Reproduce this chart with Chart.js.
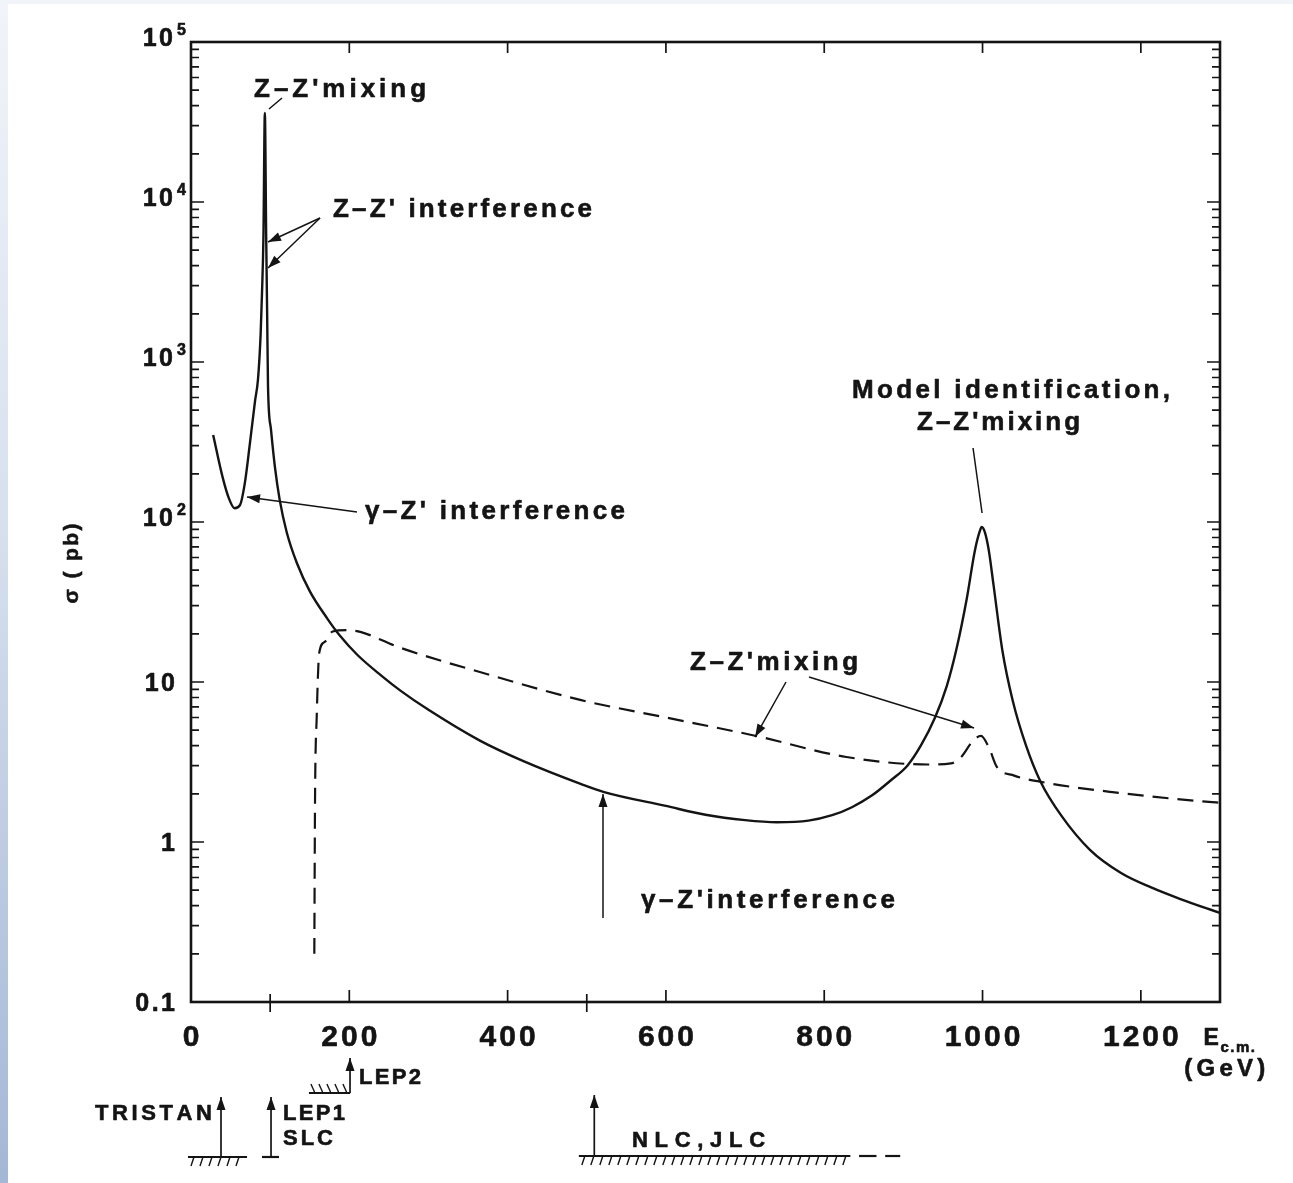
<!DOCTYPE html>
<html>
<head>
<meta charset="utf-8">
<title>Z' cross section vs E_cm</title>
<script src="https://cdn.jsdelivr.net/npm/chart.js@4.4.1/dist/chart.umd.min.js"></script>
<style>
  html, body { margin: 0; padding: 0; }
  body {
    width: 1293px; height: 1183px; overflow: hidden;
    background: linear-gradient(180deg, #f1f4f9 0%, #d6e0ee 45%, #a3b7d6 100%);
  }
  #wrap { position: absolute; left: 8px; top: 4px; width: 1285px; height: 1179px; background: #fff; }
</style>
</head>
<body>
<div id="wrap"><canvas id="chart"></canvas></div>
<script>
// ---- data (E in GeV, sigma in pb) ----
const solidE = [28, 40, 48, 55, 62, 68, 74.5, 81, 84.6, 88, 89.7, 91.5, 93.3, 95, 96.2, 97.3, 101, 106, 112, 121,
    134, 150, 172, 188, 210, 240, 265, 300, 365, 420, 493, 522, 600, 650, 700, 740, 780, 810, 835, 860,
    885, 905, 922, 940, 955, 967, 980, 990, 996, 999, 1003, 1008, 1014, 1025, 1038, 1055, 1073, 1100, 1136, 1175,
    1213, 1250, 1300];
const solidSigma = [350, 190, 140, 122, 128, 175, 312, 575, 775, 1500, 2700, 6000, 36000, 6000, 2000, 700, 380, 221, 138, 86,
    55, 37, 25, 19.5, 14.8, 11, 8.8, 6.7, 4.3, 3.2, 2.3, 2.05, 1.68, 1.48, 1.37, 1.33, 1.36, 1.47, 1.65, 1.95,
    2.45, 3.0, 4.0, 6.0, 9.5, 16, 33, 65, 86, 93, 86, 66, 40, 15.8, 7.7, 4.0, 2.4, 1.45, 0.89, 0.64,
    0.52, 0.44, 0.36];

const dashedE = [155.8, 156.7, 158.8, 162, 169, 179, 198, 215, 261, 366, 493, 600, 714, 828, 931, 960, 973,
    988, 998, 1008, 1018, 1040, 1075, 1164, 1286, 1300];
const dashedSigma = [0.2, 1.83, 6.0, 15.2, 17.8, 20.7, 21.1, 20.5, 16.6, 11.5, 7.7, 6.0, 4.6, 3.4, 3.05, 3.1, 3.4,
    4.3, 4.6, 3.9, 2.95, 2.6, 2.37, 2.05, 1.78, 1.76];

const xTicks = [0, 200, 400, 600, 800, 1000, 1200];
const xTickLabels = ['0', '200', '400', '600', '800', '1000', '1200'];
const yDecades = [0.1, 1, 10, 100, 1000, 10000, 100000];
const yTickLabels = ['0.1', '1', '10', '10', '10', '10', '10'];
const yTickExponents = ['', '', '', '2', '3', '4', '5'];

// callout texts, anchored in data units: e (GeV), s (pb) = baseline, w = width in px
const notes = [
    { text: 'Z\u2013Z\'mixing', e: 188.3, s: 45290, w: 172 },
    { text: 'Z\u2013Z\' interference', e: 343.0, s: 8054, w: 259 },
    { text: '\u03b3\u2013Z\' interference', e: 384.1, s: 104.3, w: 260 },
    { text: 'Model identification,', e: 1036.0, s: 595.7, w: 318 },
    { text: 'Z\u2013Z\'mixing', e: 1020.2, s: 375.8, w: 163 },
    { text: 'Z\u2013Z\'mixing', e: 736.6, s: 11.89, w: 168 },
    { text: '\u03b3\u2013Z\'interference', e: 729.0, s: 0.387, w: 254 },
];
// pointer lines: from -> to, head = arrowhead at "to"
const pointers = [
    { from: [98.5, 38150], to: [115.0, 44670], head: false },
    { from: [163.0, 7943], to: [97.3, 5623], head: true },
    { from: [163.0, 7943], to: [97.3, 3869], head: true },
    { from: [209.7, 115.5], to: [70.75, 143.3], head: true },
    { from: [988.0, 290.1], to: [999.4, 113.8], head: false },
    { from: [751.7, 10.0], to: [712.6, 4.53], head: true },
    { from: [780.8, 10.75], to: [989.3, 5.16], head: true },
    { from: [520.5, 0.335], to: [520.5, 1.995], head: true },
];

// collider reach markers below the axis: e in GeV, dy = px below plot bottom
const colliders = [
    { name: 'TRISTAN', arrowE: 37.9, dyFrom: 155, dyTo: 95, floor: [-3.8, 70.8], hatch: 'below' },
    { name: 'LEP1', arrowE: 101.1, dyFrom: 155, dyTo: 95, floor: [89.7, 111.2], hatch: 'none' },
    { name: 'LEP2', arrowE: 200.9, dyFrom: 91, dyTo: 56, floor: [149, 201], hatch: 'above', floorDy: 91 },
    { name: 'NLC', arrowE: 509.5, dyFrom: 154, dyTo: 93, floor: [490, 833], hatch: 'below', dashes: [[844, 866], [877, 896]] },
];
const colliderTexts = [
    { text: 'TRISTAN', e: -47.4, dy: 118, w: 117 },
    { text: 'LEP1', e: 155.4, dy: 118, w: 62 },
    { text: 'SLC', e: 147.8, dy: 143, w: 50 },
    { text: 'LEP2', e: 251.4, dy: 82, w: 62 },
    { text: 'NLC,JLC', e: 641.2, dy: 145, w: 133 },
];

const ink = '#141414';
const fam = '"Liberation Sans", Arial, sans-serif';

// bold text with even tracking; a thin outline thickens it like the old print
function spaced(ctx, str, x, y, size, opt) {
    ctx.font = `bold ${size}px ${fam}`;
    const chars = [...str];
    const ws = chars.map(c => ctx.measureText(c).width);
    const raw = ws.reduce((a, b) => a + b, 0);
    let gap = opt.gap || 0;
    if (opt.width) gap = (opt.width - raw) / Math.max(chars.length - 1, 1);
    const total = raw + gap * (chars.length - 1);
    let cx = opt.align === 'right' ? x - total : opt.align === 'left' ? x : x - total / 2;
    ctx.textAlign = 'left';
    ctx.textBaseline = 'alphabetic';
    ctx.save();
    ctx.lineWidth = 0.6;
    ctx.lineJoin = 'round';
    chars.forEach((c, i) => { ctx.fillText(c, cx, y); ctx.strokeText(c, cx, y); cx += ws[i] + gap; });
    ctx.restore();
    return total;
}

function arrow(ctx, x1, y1, x2, y2, head) {
    ctx.beginPath();
    ctx.moveTo(x1, y1);
    ctx.lineTo(x2, y2);
    ctx.stroke();
    if (!head) return;
    const a = Math.atan2(y2 - y1, x2 - x1), L = 13, W = 4.5;
    ctx.beginPath();
    ctx.moveTo(x2, y2);
    ctx.lineTo(x2 - L * Math.cos(a) + W * Math.sin(a), y2 - L * Math.sin(a) - W * Math.cos(a));
    ctx.lineTo(x2 - L * Math.cos(a) - W * Math.sin(a), y2 - L * Math.sin(a) + W * Math.cos(a));
    ctx.closePath();
    ctx.fill();
}

const decor = {
    id: 'decor',
    afterDraw(chart) {
        const { ctx, chartArea: a, scales: { x, y } } = chart;
        ctx.save();
        ctx.strokeStyle = ink;
        ctx.fillStyle = ink;
        ctx.lineCap = 'butt';

        // frame
        ctx.lineWidth = 2.6;
        ctx.strokeRect(a.left, a.top, a.right - a.left, a.bottom - a.top);

        // log ticks, inward on left and right
        ctx.lineWidth = 1.7;
        yDecades.forEach((d, i) => {
            const py = y.getPixelForValue(d);
            ctx.beginPath();
            ctx.moveTo(a.left, py); ctx.lineTo(a.left + 13, py);
            ctx.moveTo(a.right, py); ctx.lineTo(a.right - 13, py);
            ctx.stroke();
            if (i === yDecades.length - 1) return;
            for (let k = 2; k <= 9; k++) {
                const pm = y.getPixelForValue(d * k);
                ctx.beginPath();
                ctx.moveTo(a.left, pm); ctx.lineTo(a.left + 8, pm);
                ctx.moveTo(a.right, pm); ctx.lineTo(a.right - 8, pm);
                ctx.stroke();
            }
        });
        // x ticks
        xTicks.forEach(v => {
            if (v === 0) return;
            const px = x.getPixelForValue(v);
            ctx.beginPath();
            ctx.moveTo(px, a.bottom); ctx.lineTo(px, a.bottom - 12);
            ctx.moveTo(px, a.top); ctx.lineTo(px, a.top + 11);
            ctx.stroke();
        });
        [100, 500].forEach(v => {
            const px = x.getPixelForValue(v);
            ctx.beginPath();
            ctx.moveTo(px, a.bottom - 8); ctx.lineTo(px, a.bottom + 10);
            ctx.stroke();
        });

        // y labels
        yDecades.forEach((d, i) => {
            const py = y.getPixelForValue(d);
            if (yTickExponents[i]) {
                spaced(ctx, yTickLabels[i], a.left - 18, py + 4, 25, { gap: 2.5, align: 'right' });
                spaced(ctx, yTickExponents[i], a.left - 14, py - 7, 16, { align: 'left' });
            } else {
                spaced(ctx, yTickLabels[i], a.left - 16, py + 9, 25, { gap: 2.5, align: 'right' });
            }
        });
        // x labels
        xTicks.forEach((v, i) => {
            spaced(ctx, xTickLabels[i], x.getPixelForValue(v), a.bottom + 44, 30, { gap: 3, align: 'center' });
        });
        // axis titles
        const ex = x.getPixelForValue(1279);
        spaced(ctx, 'E', ex, a.bottom + 43, 23, { align: 'left' });
        spaced(ctx, 'c.m.', ex + 17, a.bottom + 50, 15, { gap: 1.5, align: 'left' });
        spaced(ctx, '(GeV)', x.getPixelForValue(1306), a.bottom + 74, 24, { width: 81, align: 'center' });

        ctx.save();
        ctx.translate(a.left - 113, y.getPixelForValue(55));
        ctx.rotate(-Math.PI / 2);
        spaced(ctx, '\u03c3 ( pb)', 0, 0, 21, { width: 80, align: 'center' });
        ctx.restore();

        // callouts
        notes.forEach(n => {
            spaced(ctx, n.text, x.getPixelForValue(n.e), y.getPixelForValue(n.s), 26, { width: n.w, align: 'center' });
        });
        ctx.lineWidth = 1.5;
        pointers.forEach(p => {
            arrow(ctx, x.getPixelForValue(p.from[0]), y.getPixelForValue(p.from[1]),
                x.getPixelForValue(p.to[0]), y.getPixelForValue(p.to[1]), p.head);
        });

        // collider reach
        colliders.forEach(c => {
            const ax = x.getPixelForValue(c.arrowE);
            ctx.lineWidth = 1.7;
            arrow(ctx, ax, a.bottom + c.dyFrom, ax, a.bottom + c.dyTo, true);
            const fy = a.bottom + (c.floorDy || c.dyFrom);
            const x0 = x.getPixelForValue(c.floor[0]), x1 = x.getPixelForValue(c.floor[1]);
            ctx.lineWidth = 2.2;
            ctx.beginPath(); ctx.moveTo(x0, fy); ctx.lineTo(x1, fy); ctx.stroke();
            ctx.lineWidth = 1.4;
            if (c.hatch === 'below') {
                for (let hx = x0 + 6; hx <= x1; hx += 9) {
                    ctx.beginPath(); ctx.moveTo(hx, fy); ctx.lineTo(hx - 3, fy + 9); ctx.stroke();
                }
            } else if (c.hatch === 'above') {
                for (let hx = x0 + 2; hx <= x1 - 4; hx += 8) {
                    ctx.beginPath(); ctx.moveTo(hx, fy - 9); ctx.lineTo(hx + 4, fy); ctx.stroke();
                }
            }
            (c.dashes || []).forEach(([d0, d1]) => {
                ctx.lineWidth = 2.2;
                ctx.beginPath(); ctx.moveTo(x.getPixelForValue(d0), fy); ctx.lineTo(x.getPixelForValue(d1), fy); ctx.stroke();
            });
        });
        colliderTexts.forEach(t => {
            spaced(ctx, t.text, x.getPixelForValue(t.e), a.bottom + t.dy, 22, { width: t.w, align: 'center' });
        });
        ctx.restore();
    }
};

new Chart(document.getElementById('chart'), {
    type: 'line',
    data: {
        datasets: [
            {
                label: 'sigma',
                data: solidE.map((e, i) => ({ x: e, y: solidSigma[i] })),
                borderColor: ink,
                borderWidth: 2.4,
                pointRadius: 0,
                cubicInterpolationMode: 'monotone',
                fill: false,
            },
            {
                label: 'sigma, Z-Z\' mixing',
                data: dashedE.map((e, i) => ({ x: e, y: dashedSigma[i] })),
                borderColor: ink,
                borderWidth: 2.2,
                borderDash: [16, 9],
                pointRadius: 0,
                cubicInterpolationMode: 'monotone',
                fill: false,
            },
        ]
    },
    options: {
        responsive: true,
        maintainAspectRatio: false,
        animation: false,
        events: [],
        layout: { padding: { left: 183, top: 38, right: 73, bottom: 181 } },
        scales: {
            x: { type: 'linear', min: 0, max: 1300, display: false },
            y: { type: 'logarithmic', min: 0.1, max: 100000, display: false },
        },
        plugins: { legend: { display: false }, tooltip: { enabled: false } },
    },
    plugins: [decor],
});
</script>
</body>
</html>
